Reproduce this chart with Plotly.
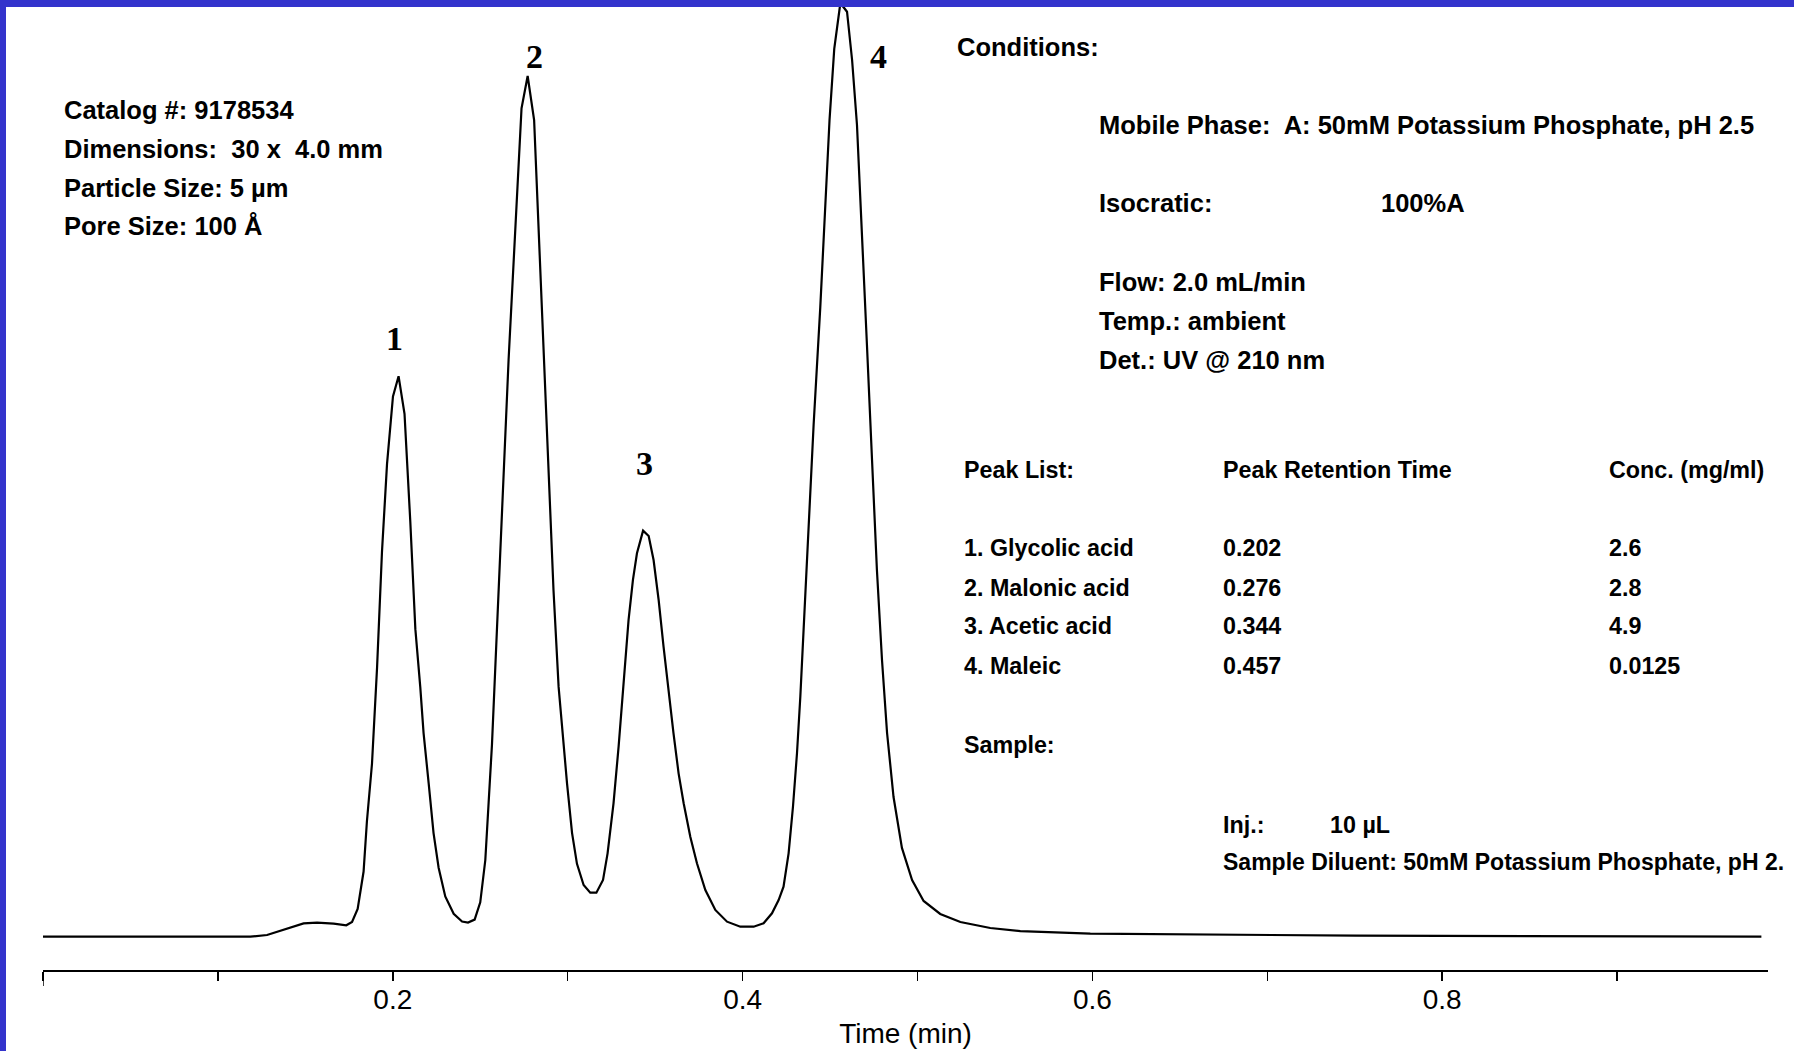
import plotly.graph_objects as go

# ---------------- data ----------------
time_min = [
    0.0000, 0.0613, 0.1185, 0.1281, 0.1357, 0.1433, 0.1490, 0.1567, 0.1662, 0.1734,
    0.1767, 0.1799, 0.1833, 0.1852, 0.1881, 0.1910, 0.1938, 0.1967, 0.2001, 0.2033,
    0.2067, 0.2100, 0.2129, 0.2157, 0.2176, 0.2205, 0.2233, 0.2262, 0.2300, 0.2348,
    0.2396, 0.2430, 0.2468, 0.2500, 0.2529, 0.2548, 0.2567, 0.2586, 0.2605, 0.2624,
    0.2643, 0.2662, 0.2736, 0.2771, 0.2808, 0.2866, 0.2891, 0.2919, 0.2948, 0.2967,
    0.2996, 0.3025, 0.3053, 0.3091, 0.3129, 0.3164, 0.3202, 0.3228, 0.3262, 0.3291,
    0.3320, 0.3348, 0.3373, 0.3396, 0.3431, 0.3463, 0.3491, 0.3520, 0.3548, 0.3577,
    0.3605, 0.3634, 0.3663, 0.3701, 0.3739, 0.3787, 0.3844, 0.3911, 0.3987, 0.4063,
    0.4120, 0.4168, 0.4206, 0.4234, 0.4263, 0.4288, 0.4311, 0.4330, 0.4349, 0.4368,
    0.4387, 0.4406, 0.4444, 0.4473, 0.4497, 0.4524, 0.4559, 0.4597, 0.4626, 0.4654,
    0.4683, 0.4711, 0.4740, 0.4768, 0.4797, 0.4826, 0.4863, 0.4911, 0.4969, 0.5035,
    0.5130, 0.5245, 0.5416, 0.5588, 0.5988, 0.6531, 0.7509, 0.9825,
]
signal_mau = [
    0.00, 0.00, 0.00, 0.18, 0.65, 1.15, 1.44, 1.51, 1.40, 1.23,
    1.58, 2.98, 7.02, 12.41, 18.63, 28.98, 41.41, 50.94, 58.19, 60.38,
    56.33, 44.73, 33.13, 26.91, 21.93, 16.55, 11.16, 7.43, 4.33, 2.47,
    1.64, 1.53, 1.84, 3.71, 8.26, 14.48, 20.69, 28.98, 37.26, 45.56,
    53.84, 62.12, 89.24, 92.72, 87.98, 62.12, 49.69, 37.26, 26.91, 22.76,
    16.55, 11.16, 7.85, 5.57, 4.75, 4.74, 6.11, 8.98, 14.37, 20.47,
    27.65, 34.12, 38.43, 41.30, 43.74, 43.16, 40.58, 36.27, 31.24, 26.22,
    21.91, 17.60, 14.37, 10.77, 7.91, 5.03, 2.88, 1.62, 1.08, 1.08,
    1.44, 2.52, 3.95, 5.39, 8.98, 14.00, 19.76, 25.85, 33.04, 40.22,
    47.40, 55.12, 67.76, 78.28, 87.98, 95.63, 100.58, 99.64, 94.44, 87.44,
    76.13, 63.74, 51.35, 39.50, 29.81, 21.94, 15.05, 9.56, 6.11, 3.85,
    2.45, 1.58, 0.94, 0.61, 0.34, 0.24, 0.11, 0.00,
]

peak_numbers = ["1", "2", "3", "4"]
peak_label_time = [0.2007, 0.2808, 0.3441, 0.4778]
peak_label_signal = [64.4, 94.8, 51.0, 94.8]

tick_values = [0.0, 0.1, 0.2, 0.3, 0.4, 0.5, 0.6, 0.7, 0.8, 0.9]
tick_labels = ["", "", "0.2", "", "0.4", "", "0.6", "", "0.8", ""]

column_lines = [
    "Catalog #: 9178534",
    "Dimensions:\u00a0 30 x\u00a0 4.0 mm",
    "Particle Size: 5 \u00b5m",
    "Pore Size: 100 \u00c5",
]
peak_names = ["1. Glycolic acid", "2. Malonic acid", "3. Acetic acid", "4. Maleic"]
retention_times = ["0.202", "0.276", "0.344", "0.457"]
concentrations = ["2.6", "2.8", "4.9", "0.0125"]

# ---------------- layout geometry (pixels) ----------------
W, H = 1794, 1051
L, R, T, B = 43, 1768, 0, 970
PX_PER_MIN = 1749.0
BASE_Y = 936.7          # pixel row of the zero-signal baseline
PX_PER_UNIT = 9.283


def px(X):
    return (X - L) / (R - L)


def py(Y):
    return (B - Y) / (B - T)


SANS = "Liberation Sans, Arial, Helvetica, sans-serif"
SERIF = "Liberation Serif, Times New Roman, serif"
BLUE = "#3333CC"

fig = go.Figure()
fig.add_trace(go.Scatter(
    x=time_min, y=signal_mau, mode="lines",
    line=dict(color="black", width=2.2), hoverinfo="skip", showlegend=False,
))

annotations = []


def txt(text, X, Y, size, bold=True, family=SANS, xanchor="left"):
    annotations.append(dict(
        text=text, x=px(X), y=py(Y), xref="paper", yref="paper",
        xanchor=xanchor, yanchor="middle", showarrow=False,
        font=dict(family=family, size=size, color="black",
                  weight="bold" if bold else "normal"),
    ))


# peak numbers (in data coordinates)
for lab, t, s in zip(peak_numbers, peak_label_time, peak_label_signal):
    annotations.append(dict(
        text=lab, x=t, y=s, xref="x", yref="y", showarrow=False,
        xanchor="center", yanchor="middle",
        font=dict(family=SERIF, size=34, color="black", weight="bold"),
    ))

# column info block
for i, line in enumerate(column_lines):
    txt(line, 62, 110 + i * 38.8, 25.5)

# conditions block
txt("Conditions:", 955, 46.7, 25.5)
txt("Mobile Phase:\u00a0 A: 50mM Potassium Phosphate, pH 2.5", 1097, 125, 25.5)
txt("Isocratic:", 1097, 203, 25.5)
txt("100%A", 1378.5, 203, 25.5)
txt("Flow: 2.0 mL/min", 1097, 282, 25.5)
txt("Temp.: ambient", 1097, 321, 25.5)
txt("Det.: UV @ 210 nm", 1097, 360, 25.5)

# peak list
TS = 23.3
txt("Peak List:", 962, 470, TS)
txt("Peak Retention Time", 1220.5, 470, TS)
txt("Conc. (mg/ml)", 1607, 470, TS)
row_y = [548.3, 587.5, 626.5, 666]
for name, rt, conc, yy in zip(peak_names, retention_times, concentrations, row_y):
    txt(name, 962, yy, TS)
    txt(rt, 1220.5, yy, TS)
    txt(conc, 1607, yy, TS)

txt("Sample:", 962, 745, TS)
txt("Inj.:", 1220.5, 825, TS)
txt("10 \u00b5L", 1328, 825, TS)
txt("Sample Diluent: 50mM Potassium Phosphate, pH 2.", 1220.5, 861.7, 23.0)

shapes = [
    # long tick at time zero
    dict(type="line", xref="x", yref="paper", x0=0, x1=0, y0=py(B), y1=py(B + 16),
         line=dict(color="black", width=1.5)),
    # blue frame (left and top)
    dict(type="rect", xref="paper", yref="paper", x0=px(0), x1=px(6), y0=py(H), y1=py(0),
         fillcolor=BLUE, line=dict(width=0), layer="above"),
    dict(type="rect", xref="paper", yref="paper", x0=px(0), x1=px(W), y0=py(7), y1=py(-2),
         fillcolor=BLUE, line=dict(width=0), layer="above"),
]

y_bottom = -(B - BASE_Y) / PX_PER_UNIT
y_top = (BASE_Y - T) / PX_PER_UNIT

fig.update_layout(
    width=W, height=H,
    margin=dict(l=L, r=W - R, t=T, b=H - B, pad=0, autoexpand=False),
    paper_bgcolor="white", plot_bgcolor="white",
    showlegend=False,
    annotations=annotations,
    shapes=shapes,
    xaxis=dict(
        range=[0, (R - L) / PX_PER_MIN], showgrid=False, zeroline=False,
        showline=True, linecolor="black", linewidth=2,
        ticks="outside", ticklen=9, tickwidth=1.5, tickcolor="black",
        tickmode="array", tickvals=tick_values, ticktext=tick_labels,
        ticklabelstandoff=-6,
        tickfont=dict(family=SANS, size=28, color="black"),
        title=dict(text="Time (min)", font=dict(family=SANS, size=28, color="black"), standoff=10),
        automargin=False, fixedrange=True,
    ),
    yaxis=dict(
        range=[y_bottom, y_top], visible=False, showgrid=False, zeroline=False,
        automargin=False, fixedrange=True,
    ),
)

fig.write_html(
    "out.html",
    config={"displayModeBar": False, "staticPlot": True},
    post_script="document.body.style.margin='0px';document.body.style.overflow='hidden';",
)
